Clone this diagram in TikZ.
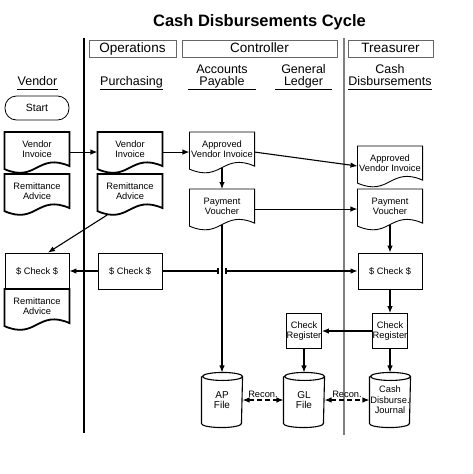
\documentclass[tikz,border=0pt]{standalone}
\usepackage{fontspec}
\setmainfont{Liberation Sans}
\usetikzlibrary{arrows.meta,positioning}

\newcommand\docoutline[1]{([yshift=-3pt]#1.south west) -- (#1.north west) -- (#1.north east) -- (#1.south east) .. controls +(-32,-14) and +(32,14) .. ([yshift=-3pt]#1.south west) -- cycle}
\newcommand\drumoutline[1]{([yshift=-4pt]#1.north west) -- ([yshift=4pt]#1.south west) arc[start angle=180, end angle=360, x radius=20pt, y radius=4pt] -- ([yshift=-4pt]#1.north east) arc[start angle=0, end angle=180, x radius=20pt, y radius=4pt] arc[start angle=180, end angle=360, x radius=20pt, y radius=4pt]}

\begin{document}
\begin{tikzpicture}[x=1pt, y=-1pt, line width=1.1pt, >={Latex[length=7pt,width=5.5pt]},
    small/.style={font=\fontsize{9.3}{10}\selectfont},
    doc/.style={small, anchor=north, minimum width=64pt, minimum height=33pt, inner sep=0pt, align=center},
    box/.style={small, draw, line width=0.8pt, minimum width=64pt, minimum height=36pt, inner sep=0pt},
    regbox/.style={small, draw, line width=0.8pt, minimum width=35pt, minimum height=35pt, inner sep=0pt, align=center},
    drum/.style={font=\fontsize{10}{10.5}\selectfont, minimum width=40pt, minimum height=54pt, inner sep=0pt, align=center},
    term/.style={font=\fontsize{10.5}{12}\selectfont, draw, line width=0.8pt, rounded corners=11.5pt, minimum width=64pt, minimum height=24pt},
    hdbox/.style={draw=black!60, line width=0.9pt, minimum height=17pt, inner sep=0pt, text height=10pt, text depth=3pt, font=\fontsize{13.5}{15}\selectfont},
    lane/.style={anchor=south, inner ysep=0pt, inner xsep=0pt, text depth=2.6pt, align=center, font=\fontsize{12.5}{12}\selectfont},
    recon/.style={small, inner sep=0pt}]
    \useasboundingbox (0,0) rectangle (473,474);

    \node[font=\fontsize{16.5}{18}\bfseries\selectfont] (title) at (259.5,22) {Cash Disbursements Cycle};

    \node[hdbox, minimum width=87pt] (ops) at (132.5,48.5) {Operations};
    \node[hdbox, minimum width=155pt] (ctrl) at (259.5,48.5) {Controller};
    \node[hdbox, minimum width=85pt] (treas) at (390.5,48.5) {Treasurer};

    \node[lane] (vend) at (37.5,89) {Vendor};
    \node[lane] (purch) at (131.5,89) {Purchasing};
    \node[lane, inner xsep=8pt] (ap) at (222,89) {Accounts\\Payable};
    \node[lane, inner xsep=5.5pt] (gl) at (303.5,89) {General\\Ledger};
    \node[lane] (cd) at (390,89) {Cash\\Disbursements};
    \foreach \n in {vend,purch,ap,gl,cd}
        \draw[line width=1pt] (\n.south west) -- (\n.south east);

    \draw[line width=2.6pt] (84,38) -- (84,433);
    \draw[gray, line width=1.2pt] (344,38) -- (344,435);

    \node[term] (start) at (37,108) {Start};
    \node[doc] (vinv) at (37,132) {Vendor\\Invoice};
    \node[doc] (vrem) at (37,174) {Remittance\\Advice};
    \node[doc] (pinv) at (130,132) {Vendor\\Invoice};
    \node[doc] (prem) at (130,174) {Remittance\\Advice};
    \node[doc] (apinv) at (222,132) {Approved\\Vendor Invoice};
    \node[doc] (appv) at (222,189) {Payment\\Voucher};
    \node[doc] (cdinv) at (390,146) {Approved\\Vendor Invoice};
    \node[doc] (cdpv) at (390,189) {Payment\\Voucher};

    \node[box] (vchk) at (37,271) {\$ Check \$};
    \node[doc] (vrem2) at (37,289) {Remittance\\Advice};
    \node[box] (pchk) at (130,271) {\$ Check \$};
    \node[box] (cdchk) at (390,271) {\$ Check \$};

    \node[regbox] (glreg) at (304,331) {Check\\Register};
    \node[regbox] (cdreg) at (390,331) {Check\\Register};

    \node[drum] (apfile) at (222,400) {AP\\File};
    \node[drum] (glfile) at (304,400) {GL\\File};
    \node[drum, font=\fontsize{9.3}{10.5}\selectfont] (cdjour) at (390,400) {Cash\\Disburse.\\Journal};

    \foreach \n in {vinv,vrem,pinv,prem,vrem2}
        \draw[line width=1.8pt] \docoutline{\n};
    \foreach \n in {apinv,appv,cdinv,cdpv}
        \draw[line width=0.9pt] \docoutline{\n};
    \foreach \n in {apfile,glfile,cdjour}
        \draw[line width=1.1pt] \drumoutline{\n};

    \coordinate (gapL) at (218,271);
    \coordinate (gapR) at (226,271);
    \draw (pchk) -- (gapL);
    \draw ([yshift=3pt]gapL) -- ([yshift=-3pt]gapL) ([yshift=3pt]gapR) -- ([yshift=-3pt]gapR);

    \path[->]
    ([yshift=-3pt]vinv.east) edge ([yshift=-3pt]pinv.west)
    ([yshift=-3pt]pinv.east) edge ([yshift=-3pt]apinv.west)
    ([yshift=-3pt]apinv.east) edge ([yshift=-3pt]cdinv.west)
    ([yshift=-2pt]apinv.south) edge (appv.north)
    ([yshift=-3pt]appv.east) edge ([yshift=-3pt]cdpv.west)
    ([yshift=-2pt]appv.south) edge (apfile.north)
    ([yshift=-2pt]cdpv.south) edge (cdchk.north)
    ([xshift=-23pt,yshift=-7pt]prem.south) edge ([xshift=11pt]vchk.north)
    (pchk) edge (vchk)
    (gapR) edge (cdchk)
    (cdchk) edge (cdreg)
    (cdreg) edge (glreg)
    (cdreg) edge (cdjour)
    (glreg) edge (glfile)
    ;

    \path[<->, dash pattern=on 5pt off 3pt]
    (apfile) edge node[recon, above=2pt] {Recon.} (glfile)
    (glfile) edge node[recon, above=2pt] {Recon.} (cdjour)
    ;
\end{tikzpicture}
\end{document}
